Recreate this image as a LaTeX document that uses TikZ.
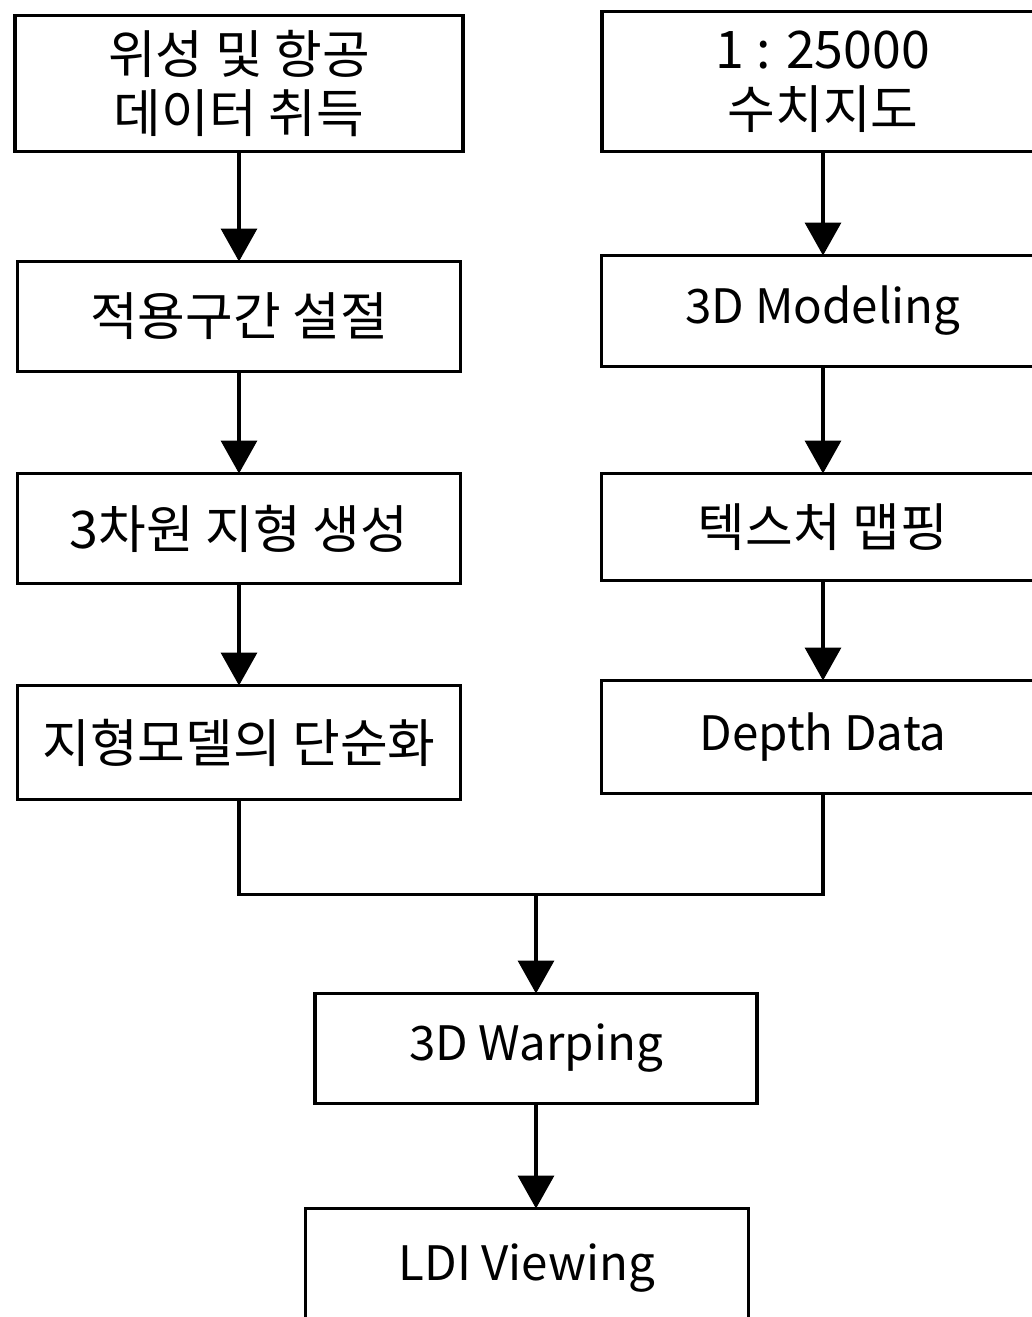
\documentclass[tikz,border=0pt]{standalone}
\usepackage{fontspec}
\newfontfamily\krfont{Noto Sans CJK KR}
\usetikzlibrary{positioning,arrows.meta}

\begin{document}
\begin{tikzpicture}[>={Triangle[length=6.6mm,width=7.2mm]},line width=2.2pt,
   blk/.style={draw,align=center,minimum width=8.86cm,minimum height=2.2cm,inner sep=0pt,outer sep=0pt,
     font=\krfont\fontsize{27}{34}\selectfont},
   kr/.style={blk,font=\krfont\fontsize{29.5}{34}\selectfont},
   arr/.style={->,line width=2pt}]
\clip (0,0) rectangle (20.64,-26.34);
% levy sloupec
\node[kr,minimum width=8.96cm,minimum height=2.72cm] (L1) at (4.78,-1.67) {위성 및 항공\\데이터 취득};
\node[kr] (L2) [below=2.2cm of L1] {적용구간 설절};
\node[kr] (L3) [below=2.04cm of L2] {3차원 지형 생성};
\node[kr,minimum height=2.28cm] (L4) [below=2.04cm of L3] {지형모델의 단순화};
% pravy sloupec
\node[kr,minimum width=8.84cm,minimum height=2.8cm] (R1) at (16.46,-1.63) {1 : 25000\\수치지도};
\node[blk,minimum height=2.22cm] (R2) [below=2.08cm of R1] {3D Modeling};
\node[kr,minimum height=2.14cm] (R3) [below=2.14cm of R2] {텍스처 맵핑};
\node[blk,minimum height=2.26cm] (R4) [below=2.0cm of R3] {Depth Data};
% spojeni
\node[blk,minimum width=8.84cm] (W) at (10.72,-20.97) {3D Warping};
\node[blk,xshift=-0.18cm,minimum height=2.4cm] (V) [below=2.1cm of W] {LDI Viewing};
\coordinate[above=1.98cm of W] (j);
\draw[arr] (L1) -- (L2);
\draw[arr] (L2) -- (L3);
\draw[arr] (L3) -- (L4);
\draw[arr] (R1) -- (R2);
\draw[arr] (R2) -- (R3);
\draw[arr] (R3) -- (R4);
\draw (L4) |- (j) -| (R4);
\draw[arr] (j) -- (W);
\draw[arr] (W) -- (W |- V.north);
\end{tikzpicture}
\end{document}
